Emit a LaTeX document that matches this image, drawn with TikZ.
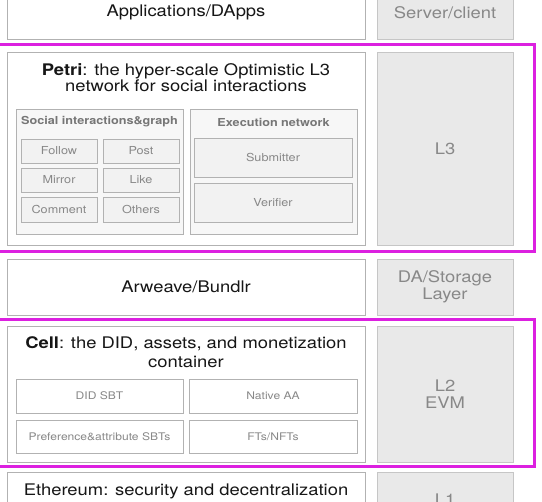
\documentclass[tikz,border=0pt]{standalone}
\usepackage{fontspec}
\setmainfont{TeX Gyre Heros}[FakeStretch=1.15]
\usepackage{xcolor}
\usepackage{tikz}
\usetikzlibrary{positioning}

\definecolor{hilite}{RGB}{220,32,224}
\definecolor{boxline}{RGB}{178,178,178}
\definecolor{layerfill}{RGB}{233,233,233}
\definecolor{layerline}{RGB}{198,198,198}
\definecolor{labelgray}{RGB}{136,136,136}
\definecolor{titlegray}{RGB}{118,118,118}
\definecolor{groupfill}{RGB}{247,247,247}
\definecolor{itemfill}{RGB}{242,242,242}
\definecolor{ink}{RGB}{22,22,22}

\tikzset{
	stackbox/.style={draw=boxline, fill=white, line width=0.8pt, inner sep=0pt, text=ink, align=center, font=\fontsize{16}{18}\selectfont},
	layerbox/.style={draw=layerline, fill=layerfill, line width=0.8pt, inner sep=0pt, text=labelgray, align=center, minimum width=136pt, font=\fontsize{16}{17.5}\selectfont},
	groupbox/.style={draw=boxline, fill=groupfill, line width=0.7pt, inner sep=0pt, minimum width=167pt, minimum height=125pt},
	itembox/.style={draw=boxline, fill=itemfill, line width=0.7pt, inner sep=0pt, text=labelgray, font=\fontsize{11}{13}\selectfont},
	cellitem/.style={draw=boxline, fill=white, line width=0.7pt, inner sep=0pt, text=labelgray, font=\fontsize{10.5}{12}\selectfont},
	grouptitle/.style={inner sep=0pt, text=titlegray, font=\fontsize{11}{13}\selectfont\bfseries},
	frame/.style={draw=hilite, line width=3pt}
}

\begin{document}
\begin{tikzpicture}[x=1pt,y=-1pt]
				\clip[use as bounding box] (0,0) rectangle (542,502);
				
				% highlighted layers
				\draw [frame] (-6,45) rectangle (534,252);
				\draw [frame] (-6,320) rectangle (534,467);
				
				% apps
				\node [stackbox, minimum width=358pt, minimum height=54pt] (apps) at (186,12.5) {Applications/DApps};
				\node [layerbox, minimum height=54pt] (server) at (445,12.5) {Server/client};
				
				% % % % % % % % % % % % % % % % % % % % % % % % % %
				
				\node [stackbox, minimum width=358pt, minimum height=193pt] (petri) at (186,148.5) {};
				\node [layerbox, minimum height=193pt] (l3) at (445,148.5) {L3};
				\node [inner sep=0pt, anchor=north, align=center, text=ink, font=\fontsize{16}{16}\selectfont] (petrititle) at (186,63) {\textbf{Petri}: the hyper-scale Optimistic L3\\network for social interactions};
				
				\node [groupbox] (social) at (99.5,171.5) {};
				\node [grouptitle] (socialtitle) at (99.5,122) {Social interactions\&graph};
				\node [itembox, minimum width=76pt, minimum height=24pt] (follow) at (59,151) {Follow};
				\node [itembox, minimum width=76pt, minimum height=24pt] (post) at (141,151) {Post};
				\node [itembox, minimum width=76pt, minimum height=24pt] (mirror) at (59,180) {Mirror};
				\node [itembox, minimum width=76pt, minimum height=24pt] (like) at (141,180) {Like};
				\node [itembox, minimum width=76pt, minimum height=25pt] (comment) at (59,209.5) {Comment};
				\node [itembox, minimum width=76pt, minimum height=25pt] (others) at (141,209.5) {Others};
				
				\node [groupbox] (exec) at (273.5,171.5) {};
				\node [grouptitle] (exectitle) at (273.5,122) {Execution network};
				\node [itembox, minimum width=158pt, minimum height=39pt] (submitter) at (273,157.5) {Submitter};
				\node [itembox, minimum width=158pt, minimum height=39pt] (verifier) at (273,202.5) {Verifier};
				
				% % % % % % % % % % % % % % % % % % % % % % % % % %
				
				\node [stackbox, minimum width=358pt, minimum height=56pt] (arweave) at (186,287) {Arweave/Bundlr};
				\node [layerbox, minimum height=56pt] (storage) at (445,287) {DA/Storage\\Layer};
				
				% % % % % % % % % % % % % % % % % % % % % % % % % %
				
				\node [stackbox, minimum width=358pt, minimum height=136pt] (cell) at (186,394) {};
				\node [layerbox, minimum height=136pt] (l2) at (445,394) {L2\\EVM};
				\node [inner sep=0pt, anchor=north, align=center, text=ink, font=\fontsize{16}{19}\selectfont] (celltitle) at (186,336) {\textbf{Cell}: the DID, assets, and monetization\\container};
				
				\node [cellitem, minimum width=167pt, minimum height=34pt] (didsbt) at (99.5,396) {DID SBT};
				\node [cellitem, minimum width=168pt, minimum height=34pt] (nativeaa) at (273,396) {Native AA};
				\node [cellitem, minimum width=167pt, minimum height=33pt] (prefsbt) at (99.5,436.5) {Preference\&attribute SBTs};
				\node [cellitem, minimum width=168pt, minimum height=33pt] (tokens) at (273,436.5) {FTs/NFTs};
				
				% % % % % % % % % % % % % % % % % % % % % % % % % %
				
				\node [stackbox, minimum width=358pt, minimum height=56pt] (eth) at (186,500) {};
				\node [layerbox, minimum height=56pt] (l1) at (445,500) {L1};
				\node [inner sep=0pt, anchor=north, align=center, text=ink, font=\fontsize{16}{18}\selectfont] (ethtitle) at (186,483.5) {Ethereum: security and decentralization\\guarantee};
\end{tikzpicture}
\end{document}
